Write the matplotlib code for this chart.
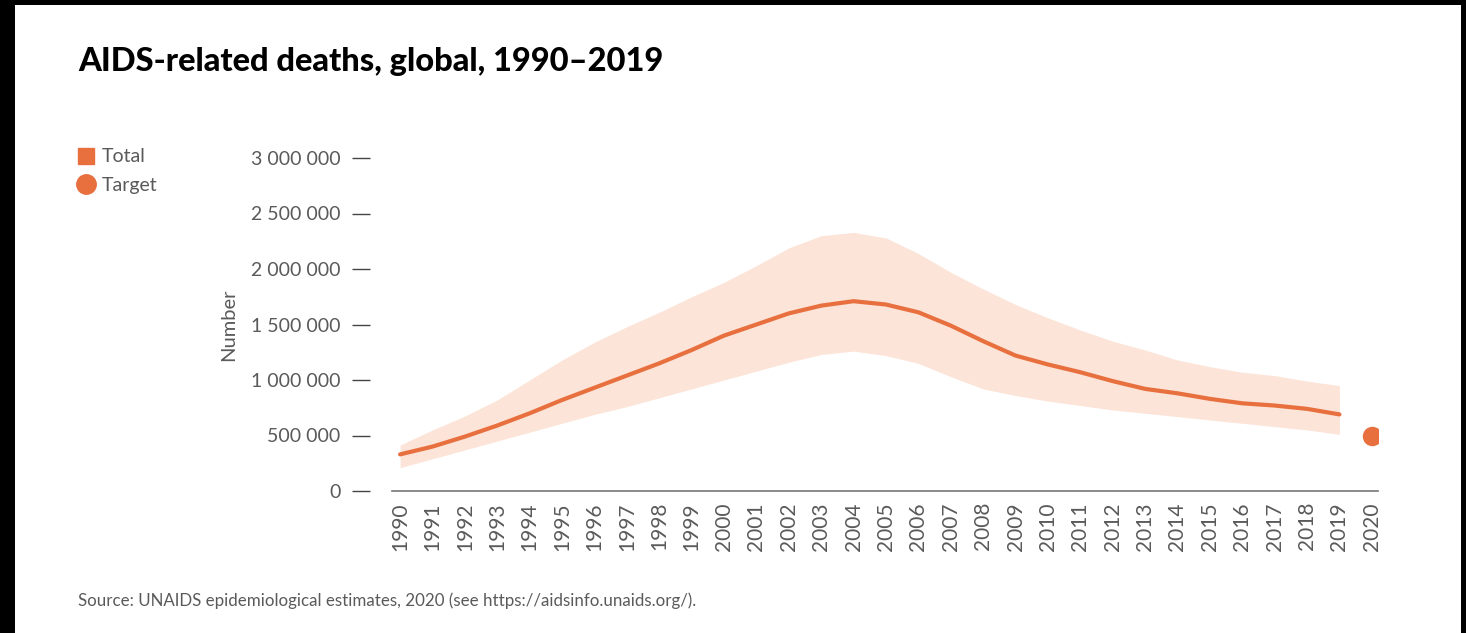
import matplotlib
matplotlib.use("Agg")
import matplotlib.pyplot as plt
from matplotlib.patches import Rectangle
from matplotlib.lines import Line2D
from matplotlib.ticker import FuncFormatter

years = list(range(1990, 2020))
deaths = [330000, 400000, 490000, 590000, 700000, 820000, 930000, 1040000, 1150000, 1270000,
          1400000, 1500000, 1600000, 1670000, 1710000, 1680000, 1610000, 1490000, 1350000, 1220000,
          1140000, 1070000, 990000, 920000, 880000, 830000, 790000, 770000, 740000, 690000]
upper = [414000, 550000, 675000, 820000, 1000000, 1180000, 1340000, 1480000, 1610000, 1750000,
         1880000, 2030000, 2190000, 2300000, 2330000, 2280000, 2140000, 1970000, 1820000, 1680000,
         1560000, 1450000, 1350000, 1270000, 1180000, 1120000, 1070000, 1040000, 990000, 950000]
lower = [210000, 290000, 370000, 450000, 530000, 610000, 690000, 760000, 840000, 920000,
         1000000, 1080000, 1160000, 1230000, 1260000, 1220000, 1150000, 1030000, 920000, 860000,
         810000, 770000, 730000, 700000, 670000, 640000, 610000, 580000, 550000, 510000]
target_year = 2020
target_value = 500000

orange = "#E8703F"
band = "#FCE4D8"
grey = "#5a5a5a"

plt.rcParams['font.family'] = ['Lato', 'DejaVu Sans']

fig = plt.figure(figsize=(14.66, 6.33), dpi=100, facecolor="black")
W, H = 1466, 633
# white page inside the black frame
fig.patches.append(Rectangle((15 / W, 0), (1461 - 15) / W, (H - 5) / H,
                             transform=fig.transFigure, facecolor="white", edgecolor="none", zorder=-10))

ax = fig.add_axes([392 / W, 1 - 491 / H, (1378 - 392) / W, (491 - 158) / H])
ax.set_zorder(2)
ax.set_facecolor("none")

ax.fill_between(years, lower, upper, color=band, linewidth=0)
ax.plot(years, deaths, color=orange, lw=3, solid_capstyle="round")
ax.plot([target_year], [target_value], "o", color=orange, ms=14, mec="none")

ax.set_xlim(1989.75, 2020.19)
ax.set_ylim(0, 3000000)
ax.set_xticks(list(range(1990, 2021)))
ax.set_xticklabels([str(y) for y in range(1990, 2021)], rotation=90, color=grey, fontsize=15)
ax.tick_params(axis="x", length=0, pad=8)

ax.set_yticks(range(0, 3000001, 500000))
ax.yaxis.set_major_formatter(FuncFormatter(lambda v, p: f"{int(v):,}".replace(",", " ")))
ax.tick_params(axis="y", length=13, width=1, color="#444444", labelcolor=grey, labelsize=14, pad=8)

ax.spines["left"].set_position(("outward", 16))
ax.spines["left"].set_visible(False)
for s in ["top", "right"]:
    ax.spines[s].set_visible(False)
ax.spines["bottom"].set_color("#777777")
ax.spines["bottom"].set_linewidth(1.2)

ax.set_ylabel("Number", color=grey, fontsize=14.5, labelpad=10)

fig.text(78 / W, 1 - 62 / H, "AIDS-related deaths, global, 1990–2019", fontsize=23.5,
         fontweight="black", color="black", va="center", ha="left")

handles = [Line2D([], [], marker="s", ls="none", color=orange, ms=12),
           Line2D([], [], marker="o", ls="none", color=orange, ms=14)]
fig.legend(handles, ["Total", "Target"], loc="upper left", bbox_to_anchor=(57 / W, 1 - 131 / H),
           frameon=False, handletextpad=0.2, labelspacing=0.6, handlelength=1.2,
           prop={"size": 14}, labelcolor=grey)

fig.text(78 / W, 1 - 601 / H, "Source: UNAIDS epidemiological estimates, 2020 (see https://aidsinfo.unaids.org/).",
         fontsize=12.2, color=grey, va="center", ha="left")

fig.savefig("out.png", dpi=100, facecolor=fig.get_facecolor())
